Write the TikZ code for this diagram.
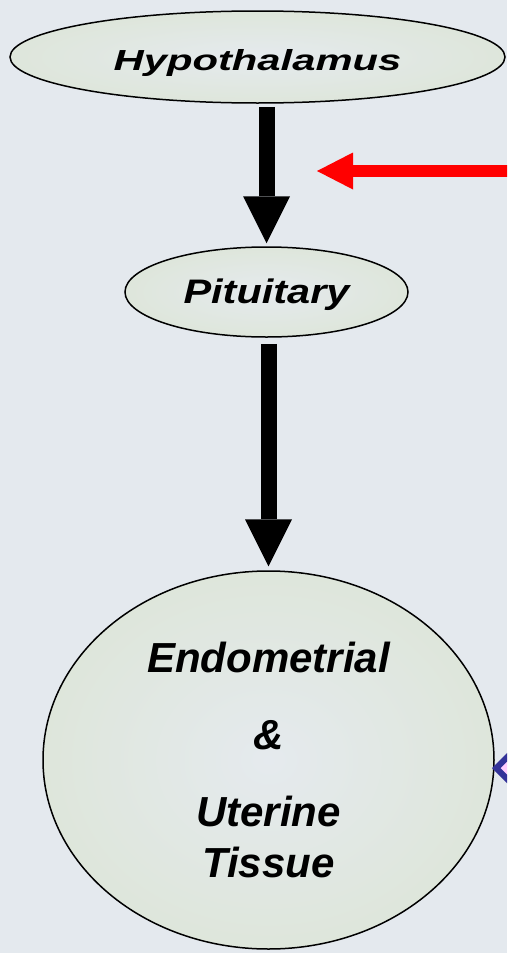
\documentclass[tikz,border=0pt]{standalone}
\usepackage{fontspec}
\setmainfont{Liberation Sans}
\usetikzlibrary{arrows.meta,shapes.geometric}
\definecolor{slide}{HTML}{E4E9EE}
\definecolor{ellin}{HTML}{E5EAEE}
\definecolor{ellout}{HTML}{DEE6DB}
\definecolor{gateblue}{HTML}{333399}
\definecolor{gatepink}{HTML}{FFCCFF}
\tikzset{
  ell/.style={ellipse,draw=black,line width=1.5pt,inner color=ellin,outer color=ellout,
              inner sep=0pt,align=center},
  bigar/.style={-{Triangle[length=47pt,width=47pt,line width=0pt]},line width=16pt,black},
  redar/.style={-{Triangle[length=36pt,width=37pt,line width=0pt]},line width=12pt,red},
  gatebox/.style={diamond,aspect=1,draw=gateblue,line width=6pt,fill=gatepink,
                  minimum width=120pt,minimum height=120pt},
}
\begin{document}
\begin{tikzpicture}[x=1pt,y=-1pt]
  \useasboundingbox (0,0) rectangle (507,953);
  \fill[slide] (0,0) rectangle (507,953);
  \clip (0,0) rectangle (507,953);
  \node[ell,minimum width=495pt,minimum height=92pt,
        font=\fontsize{29}{34}\selectfont\bfseries\itshape] (hyp) at (257.5,57)
       {\raisebox{-6pt}[\height][\depth]{\scalebox{1.44}[1]{Hypothalamus}}};
  \node[ell,minimum width=283pt,minimum height=90pt,
        font=\fontsize{34}{40}\selectfont\bfseries\itshape] (pit) at (266.5,292)
       {\raisebox{-3pt}[\height][\depth]{\scalebox{1.22}[1]{Pituitary}}};
  \node[ell,minimum width=451pt,minimum height=378pt,
        font=\fontsize{42}{51}\selectfont\bfseries\itshape] (endo) at (268.5,760)
       {Endometrial\\[26pt] \&\\[26pt] Uterine\\ Tissue};
  \node[gatebox] (gate) at (555,768) {};
  \draw[bigar,shorten <=3pt,shorten >=3pt] (hyp.south -| pit.north)--(pit.north);
  \draw[bigar,shorten <=6pt,shorten >=4pt] (pit.south -| endo.north)--(endo.north);
  % feedback from off the slide
  \coordinate (rsrc) at (540,171);
  \coordinate (rtip) at (317,171);
  \draw[redar] (rsrc)--(rtip);
\end{tikzpicture}
\end{document}
